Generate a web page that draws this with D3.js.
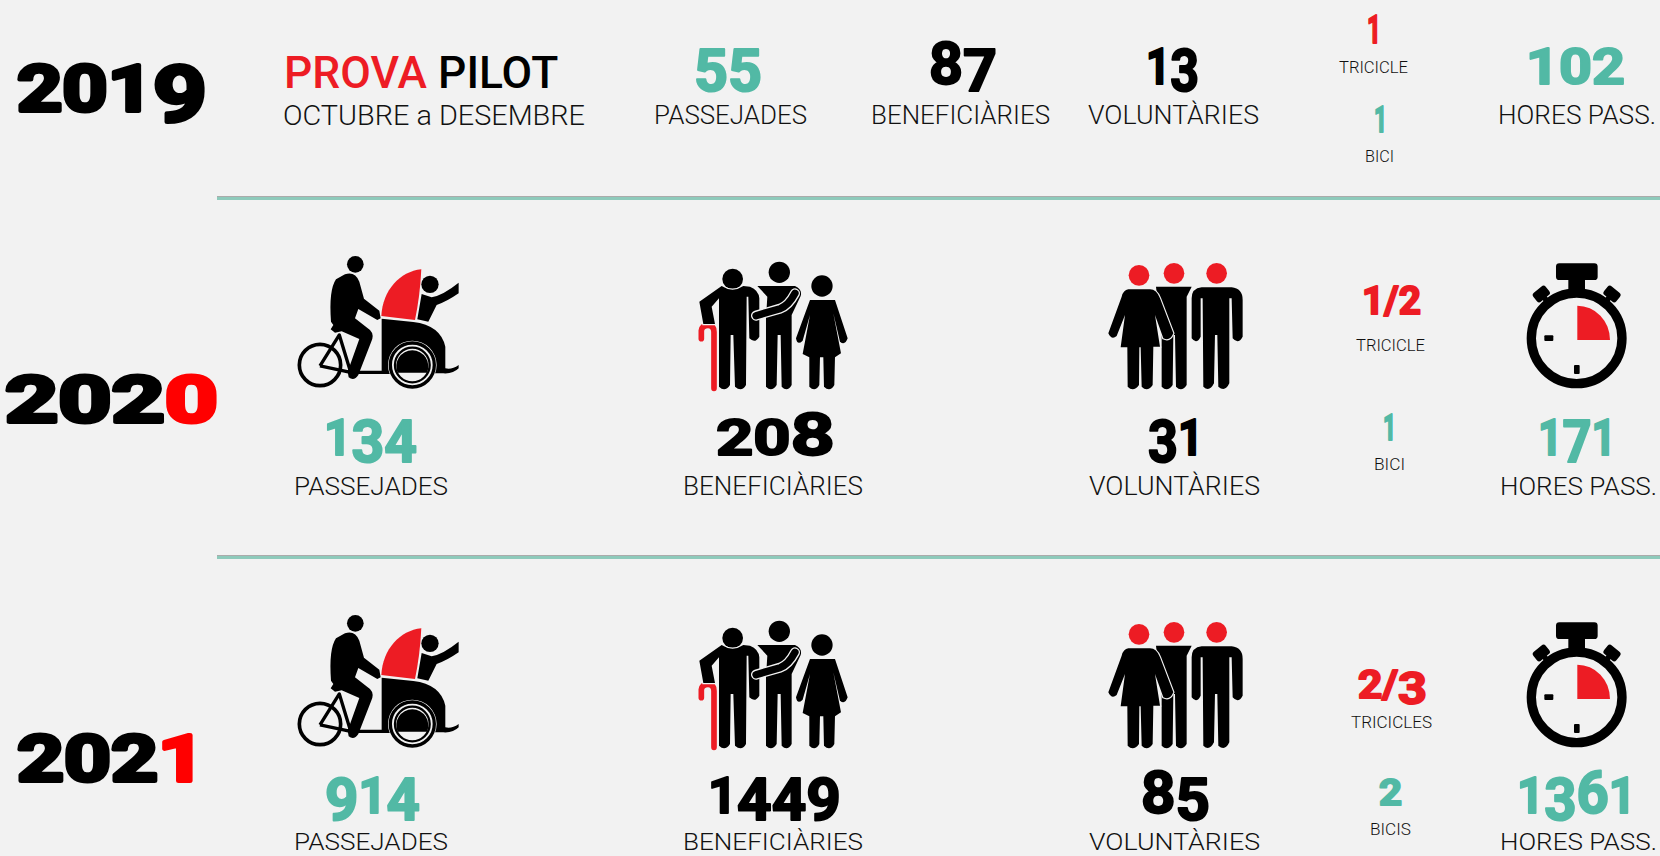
<!DOCTYPE html>
<html>
<head>
<meta charset="utf-8">
<title>Passejades 2019-2021</title>
<script src="https://cdn.jsdelivr.net/npm/d3@7"></script>
<style>
html, body { margin: 0; padding: 0; background: #f2f2f2; overflow: hidden; }
svg { display: block; }
text { font-family: Roboto, "Noto Sans", sans-serif; }
</style>
</head>
<body>
<div id="chart"></div>
<script>
const years = ['2019', '2020', '2021'];
const passejades = [55, 134, 914];
const beneficiaries = [87, 208, 1449];
const voluntaries = [13, 31, 85];
const tricicles = ['1', '1/2', '2/3'];
const tricicleLabels = ['TRICICLE', 'TRICICLE', 'TRICICLES'];
const bicis = [1, 1, 2];
const biciLabels = ['BICI', 'BICI', 'BICIS'];
const hores = [102, 171, 1361];

const BG = '#f2f2f2', TEAL = '#52b9a5', RED = '#ed1c24';

const svg = d3.select('#chart').append('svg')
    .attr('width', 1660)
    .attr('height', 856);

// each metric: year -> [left, right, top of digits, label baseline, label left, label right]
function place(rows) { return d3.scaleOrdinal(years, rows); }
const yearBox = place([[15, 209, 63], [3, 220, 374], [15, 207, 733]]);
const passBox = place([[693, 763, 48, 124, 654, 807], [323, 418, 419, 495, 294, 448], [324, 421, 777, 850, 294, 448]]);
const beneBox = place([[928, 998, 48, 124, 871, 1050], [715, 836, 419, 495, 683, 863], [707, 842, 777, 850, 683, 863]]);
const voluBox = place([[1145, 1200, 48, 124, 1088, 1259], [1147, 1204, 419, 495, 1089, 1260], [1140, 1211, 777, 850, 1089, 1260]]);
const horeBox = place([[1525, 1626, 48, 124, 1498, 1656], [1537, 1617, 419, 495, 1500, 1657], [1516, 1637, 777, 850, 1500, 1657]]);
const triBox = place([[1366, 1382, 15, 73, 1339, 1408], [1361, 1422, 286, 351, 1356, 1425], [1357, 1428, 670, 728, 1351, 1432]]);
const bikeBox = place([[1373, 1388, 105, 162, 1365, 1394], [1382, 1397, 413, 470, 1374, 1405], [1378, 1403, 778, 835, 1370, 1411]]);
const rowShift = d3.scaleOrdinal(['2020', '2021'], [0, 359]);
const ruleY = d3.scalePoint().domain(years.slice(0, 2)).range([198, 557]);

// squeeze a text into x0..x1 without breaking it into separate elements
function fit(t, x0, x1, baseline) {
    const w = t.node().getComputedTextLength();
    t.attr('transform', 'translate(' + x0 + ',' + baseline + ') scale(' + ((x1 - x0) / w) + ',1)');
    return t;
}

function label(str, x0, x1, baseline, capH, fill, weight) {
    const t = svg.append('text')
        .attr('font-size', capH / 0.711)
        .attr('font-weight', weight || 300)
        .attr('fill', fill || '#111')
        .text(str);
    return fit(t, x0, x1, baseline);
}

// old style figures: 3 4 5 7 9 hang below the line, 6 8 rise above it
function figures(str, x0, x1, top, h, fill, lastFill, sw) {
    sw = sw || 2;
    const fs = (h - sw) / 0.711;
    const extra = h * 0.19;
    const t = svg.append('text')
        .attr('font-weight', 700)
        .attr('fill', fill)
        .attr('stroke', fill)
        .attr('stroke-width', sw)
        .attr('stroke-linejoin', 'round');
    let shift = 0;
    str.split('').forEach(function(c, i) {
        const longOne = '34579'.includes(c);
        const tallOne = '68'.includes(c);
        const want = longOne ? extra : 0;
        const s = t.append('tspan')
            .attr('font-size', longOne || tallOne ? fs * 1.19 : fs)
            .attr('dy', want - shift)
            .text(c);
        if (lastFill && i === str.length - 1) {
            s.attr('fill', lastFill).attr('stroke', lastFill);
        }
        shift = want;
    });
    return fit(t, x0 + sw / 2, x1 - sw / 2, top + h - sw / 2);
}

function metric(box, values, fill, numH) {
    years.forEach(function(y, i) {
        const b = box(y);
        figures(String(values[i]), b[0], b[1], b[2], numH, fill);
    });
}

// rules between the years
ruleY.domain().forEach(function(y) {
    svg.append('line').attr('x1', 217).attr('x2', 1660)
        .attr('y1', ruleY(y) - 1.5).attr('y2', ruleY(y) - 1.5)
        .attr('stroke', '#ababab').attr('stroke-width', 1);
    svg.append('line').attr('x1', 217).attr('x2', 1660)
        .attr('y1', ruleY(y) + 0.5).attr('y2', ruleY(y) + 0.5)
        .attr('stroke', '#8ecabb').attr('stroke-width', 3);
});

// year column
years.forEach(function(y, i) {
    const b = yearBox(y);
    figures(y, b[0], b[1], b[2], 50, '#000', i === 0 ? null : '#ff0000', 4);
});

// pilot heading of the first row
const pilot = svg.append('text')
    .attr('font-size', 31 / 0.711)
    .attr('font-weight', 500);
pilot.append('tspan').attr('fill', RED).text('PROVA');
pilot.append('tspan').attr('fill', '#000').attr('dx', 11).text('PILOT');
fit(pilot, 284, 547, 88);
label('OCTUBRE a DESEMBRE', 283, 585, 125, 20);

metric(passBox, passejades, TEAL, 37);
metric(beneBox, beneficiaries, '#000', 37);
metric(voluBox, voluntaries, '#000', 37);
metric(horeBox, hores, TEAL, 37);
metric(triBox, tricicles, RED, 29);
metric(bikeBox, bicis, TEAL, 28);

years.forEach(function(y, i) {
    [[passBox, 'PASSEJADES'], [beneBox, 'BENEFICIÀRIES'], [voluBox, 'VOLUNTÀRIES'], [horeBox, 'HORES PASS.']].forEach(function(m) {
        const b = m[0](y);
        // last row sits right on the page edge, a bit smaller so it stays inside
        label(m[1], b[4], b[5], b[3], y === '2021' ? 17 : 18);
    });
    const t = triBox(y), k = bikeBox(y);
    label(tricicleLabels[i], t[4], t[5], t[3], 12);
    label(biciLabels[i], k[4], k[5], k[3], 12);
});

// pictograms, drawn at 3x in their own coordinates
function icon(x, y) {
    return svg.append('g').attr('transform', 'translate(' + x + ',' + y + ') scale(0.3333)');
}
function blob(g, d, fill, outline) {
    const p = g.append('path').attr('d', d).attr('fill', fill || '#000');
    if (outline) p.attr('stroke', BG).attr('stroke-width', 7).attr('paint-order', 'stroke');
    return p;
}
function dot(g, cx, cy, r, fill) {
    return g.append('circle').attr('cx', cx).attr('cy', cy).attr('r', r).attr('fill', fill || '#000');
}
function ring(g, cx, cy, r, w) {
    return g.append('circle').attr('cx', cx).attr('cy', cy).attr('r', r)
        .attr('fill', 'none').attr('stroke', '#000').attr('stroke-width', w);
}

function trike(dy) {
    const g = icon(280, 240 + dy);
    ring(g, 120, 375, 62, 11);
    g.append('path').attr('d', 'M120,378 L178,285 L212,397 L120,378 M212,397 H330')
        .attr('fill', 'none').attr('stroke', '#000').attr('stroke-width', 10).attr('stroke-linejoin', 'round');
    dot(g, 226, 73, 25);
    blob(g, 'M195,103 Q225,93 238,125 L252,176 L298,212 L302,235 L292,240 L235,207 L225,235 L270,270 Q285,285 272,310 L235,405 Q222,425 206,412 L203,395 L238,297 L185,274 L165,278 L152,268 L160,255 L153,245 Q146,150 168,118 Z');
    blob(g, 'M304,228 C308,150 360,95 424,88 Q420,170 405,240 Z', RED);
    dot(g, 450, 133, 26);
    blob(g, 'M425,162 L455,172 Q490,165 536,128 L536,160 Q500,185 470,195 L445,245 L412,238 Z');
    blob(g, 'M305,236 L400,246 Q482,256 496,320 L496,385 Q515,390 536,375 L536,385 Q520,402 490,400 L305,400 Z');
    dot(g, 397, 375, 73, BG);
    ring(g, 397, 375, 66, 10);
    ring(g, 397, 375, 52, 7);
    blob(g, 'M353,398 A48,48 0 1 1 441,398 Z');
}

function people(dy) {
    const g = icon(680, 250 + dy);
    g.append('path').attr('d', 'M64,266 V242 Q66,226 84,226 Q102,226 102,246 V415')
        .attr('fill', 'none').attr('stroke', RED).attr('stroke-width', 17).attr('stroke-linecap', 'round');
    dot(g, 158, 87, 31);
    blob(g, 'M125,108 Q158,130 190,108 L210,110 Q236,120 238,145 L238,260 Q225,282 208,265 L205,140 L200,140 L198,405 Q185,428 165,410 L160,255 H152 L150,405 Q135,428 117,410 L117,145 L95,170 L105,222 L70,222 L58,155 Z', '#000', true);
    dot(g, 298, 67, 32);
    blob(g, 'M232,108 H345 Q368,118 362,138 L335,195 V405 Q322,428 305,410 L302,255 H293 L290,405 Q275,428 258,410 V205 L262,140 Z');
    g.append('path').attr('d', 'M228,197 L300,176 Q325,168 345,130')
        .attr('fill', 'none').attr('stroke', BG).attr('stroke-width', 30).attr('stroke-linecap', 'round');
    g.append('path').attr('d', 'M228,197 L300,176 Q325,168 345,130')
        .attr('fill', 'none').attr('stroke', '#000').attr('stroke-width', 22).attr('stroke-linecap', 'round');
    dot(g, 426, 108, 32);
    blob(g, 'M390,150 H465 L503,265 Q495,288 480,275 L460,190 L483,310 L465,322 L463,405 Q450,428 432,410 L430,322 H420 L418,405 Q405,428 388,410 V322 L368,312 L390,195 L368,272 Q352,288 348,265 Z');
}

function volunteers(dy) {
    const g = icon(1090, 250 + dy);
    dot(g, 147, 76, 31, RED);
    dot(g, 252, 70, 31, RED);
    dot(g, 380, 70, 31, RED);
    blob(g, 'M198,110 H305 L290,140 V405 Q275,428 258,410 L255,255 H250 L248,405 Q232,428 215,410 V260 Z');
    blob(g, 'M335,112 H425 Q458,115 458,150 V260 Q445,285 428,265 L425,145 H418 V400 Q405,428 385,410 L382,255 H375 L372,400 Q358,428 340,410 L338,145 H332 V260 Q320,285 305,265 V145 Q305,115 335,112 Z');
    blob(g, 'M115,118 H180 Q200,118 210,145 L250,250 Q240,275 220,265 L195,195 L210,290 H190 L188,405 Q172,428 155,410 L152,292 H148 L147,405 Q130,428 113,410 L112,292 H92 L105,195 L80,258 Q65,272 55,250 L95,140 Q100,120 115,118 Z', '#000', true);
}

function watch(dy) {
    const g = icon(1500, 250 + dy);
    g.append('rect').attr('x', 168).attr('y', 40).attr('width', 125).attr('height', 50).attr('rx', 10);
    g.append('rect').attr('x', 205).attr('y', 85).attr('width', 50).attr('height', 40);
    [[124, 132, -40], [336, 132, 40]].forEach(function(l) {
        g.append('rect').attr('x', -24).attr('y', -17).attr('width', 48).attr('height', 34).attr('rx', 9)
            .attr('transform', 'translate(' + l[0] + ',' + l[1] + ') rotate(' + l[2] + ')');
        // short neck down to the case
        g.append('line').attr('x1', l[0]).attr('y1', l[1]).attr('x2', (l[0] + 230) / 2).attr('y2', (l[1] + 265) / 2)
            .attr('stroke', '#000').attr('stroke-width', 16);
    });
    dot(g, 230, 265, 130, BG);
    ring(g, 230, 265, 136, 28);
    blob(g, 'M232,167 A98,103 0 0 1 330,270 H232 Z', RED);
    g.append('rect').attr('x', 133).attr('y', 256).attr('width', 27).attr('height', 17).attr('rx', 3);
    g.append('rect').attr('x', 222).attr('y', 345).attr('width', 17).attr('height', 27).attr('rx', 3);
}

rowShift.domain().forEach(function(y) {
    const dy = rowShift(y);
    trike(dy);
    people(dy);
    volunteers(dy);
    watch(dy);
});
</script>
</body>
</html>
